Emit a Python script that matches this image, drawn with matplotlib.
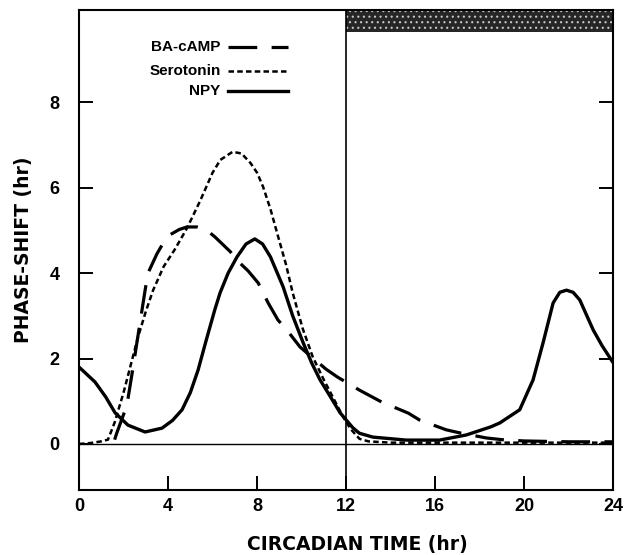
import matplotlib
matplotlib.use('Agg')
from matplotlib import pyplot as plt

plt.rcParams['font.family'] = ['Liberation Sans', 'DejaVu Sans']
plt.rcParams['hatch.linewidth'] = 0.8

# circadian time (hr) and phase shift (hr)
npy_x = [0, 0.72, 1.2, 1.62, 2.2, 2.97, 3.73, 4.2, 4.63, 5.0, 5.35, 5.7, 6.1, 6.34,
         6.7, 7.1, 7.5, 7.9, 8.25, 8.6, 9.17, 9.6, 10.07, 10.45, 10.83, 11.3, 11.73,
         12.3, 12.6, 13.2, 14.7, 16.2, 17.4, 18.5, 18.9, 19.8, 20.4, 20.85, 21.3,
         21.6, 21.9, 22.2, 22.5, 23.1, 23.5, 24]
npy_y = [1.8, 1.45, 1.1, 0.73, 0.44, 0.28, 0.37, 0.55, 0.8, 1.2, 1.73, 2.4, 3.14, 3.54,
         4.0, 4.38, 4.68, 4.8, 4.68, 4.38, 3.68, 3.0, 2.37, 1.9, 1.5, 1.1, 0.73,
         0.38, 0.25, 0.16, 0.09, 0.09, 0.21, 0.4, 0.49, 0.8, 1.5, 2.37, 3.3,
         3.55, 3.6, 3.55, 3.37, 2.67, 2.3, 1.9]

sero_x = [0, 0.5, 1.0, 1.3, 1.6, 2.0, 2.3, 2.65, 3.0, 3.33, 3.8, 4.3, 4.85, 5.45, 6.0,
          6.35, 6.9, 7.3, 7.7, 8.0, 8.27, 8.6, 8.9, 9.3, 9.6, 10.05, 10.5, 11.0, 11.4,
          11.87, 12.2, 12.6, 13.0, 14, 16, 18, 20, 22, 24]
sero_y = [0, 0.02, 0.06, 0.1, 0.5, 1.2, 1.8, 2.5, 3.1, 3.6, 4.15, 4.55, 5.05, 5.7, 6.35,
          6.65, 6.84, 6.8, 6.58, 6.35, 6.02, 5.5, 4.94, 4.2, 3.54, 2.7, 2.04, 1.5, 1.1,
          0.63, 0.35, 0.12, 0.06, 0.03, 0.03, 0.03, 0.03, 0.03, 0.03]

camp_x = [1.6, 1.7, 2.15, 2.4, 2.7, 2.97, 3.1, 3.5, 3.78, 4.1, 4.5, 4.85, 5.3, 5.75,
          6.1, 6.8, 7.1, 7.6, 8.05, 8.5, 8.94, 9.26, 9.93, 10.6, 11.1, 11.6, 12.05,
          12.6, 13.6, 14.8, 15.3, 16.5, 17.1, 18.3, 19, 20, 22, 24]
camp_y = [0.1, 0.26, 0.9, 1.7, 2.7, 3.6, 4.0, 4.45, 4.7, 4.9, 5.02, 5.08, 5.08, 5.0,
          4.85, 4.5, 4.3, 4.05, 3.77, 3.3, 2.9, 2.72, 2.27, 1.97, 1.75, 1.57, 1.43,
          1.26, 0.98, 0.72, 0.56, 0.33, 0.26, 0.14, 0.1, 0.07, 0.05, 0.05]

x_ticks = [0, 4, 8, 12, 16, 20, 24]
y_ticks = [0, 2, 4, 6, 8]
labels = ['BA-cAMP', 'Serotonin', 'NPY']

fig = plt.figure(figsize=(6.27, 5.55), dpi=100)
ax = fig.add_axes([0.126, 0.117, 0.852, 0.865])

long_dash = (0, (9, 4.5))
short_dash = (0, (2.2, 1.3))

ax.plot(camp_x, camp_y, color='black', lw=2.3, linestyle=long_dash)
ax.plot(sero_x, sero_y, color='black', lw=1.8, linestyle=short_dash)
ax.plot(npy_x, npy_y, color='black', lw=2.4, solid_capstyle='round')

# reference lines
ax.axhline(0, color='black', lw=1.0)
ax.axvline(12, color='black', lw=1.2)

# stippled bar for the dark phase
ax.axvspan(12, 24, ymin=0.954, ymax=1.0, facecolor='#262626', edgecolor='#c8c8c8',
           hatch='...', lw=0)

ax.set_xlim(0, 24)
ax.set_ylim(-1.08, 10.16)
ax.set_xticks(x_ticks)
ax.set_yticks(y_ticks)
ax.tick_params(axis='both', direction='in', length=10, width=1.4, labelsize=13, pad=6)
ax.tick_params(axis='y', right=True, pad=14)
for lbl in ax.get_xticklabels() + ax.get_yticklabels():
    lbl.set_fontweight('bold')
for s in ax.spines.values():
    s.set_linewidth(1.5)

ax.set_xlabel('CIRCADIAN TIME (hr)', fontsize=13.5, fontweight='bold',
              family='DejaVu Sans', labelpad=14)
ax.xaxis.label.set_x(0.522)
ax.set_ylabel('PHASE-SHIFT (hr)', fontsize=13.5, fontweight='bold',
              family='DejaVu Sans', labelpad=12)

# hand-made legend: right-aligned text followed by a line sample
styles = [dict(lw=2.3, linestyle=long_dash), dict(lw=1.8, linestyle=short_dash),
          dict(lw=2.4)]
ys = [0.922, 0.872, 0.832]
for lab, st, yy in zip(labels, styles, ys):
    ax.text(0.265, yy, lab, transform=ax.transAxes, ha='right', va='center',
            fontsize=11, fontweight='bold')
    ax.plot([0.278, 0.391], [yy, yy], transform=ax.transAxes, color='black', **st)

fig.savefig('out.png', dpi=100)
